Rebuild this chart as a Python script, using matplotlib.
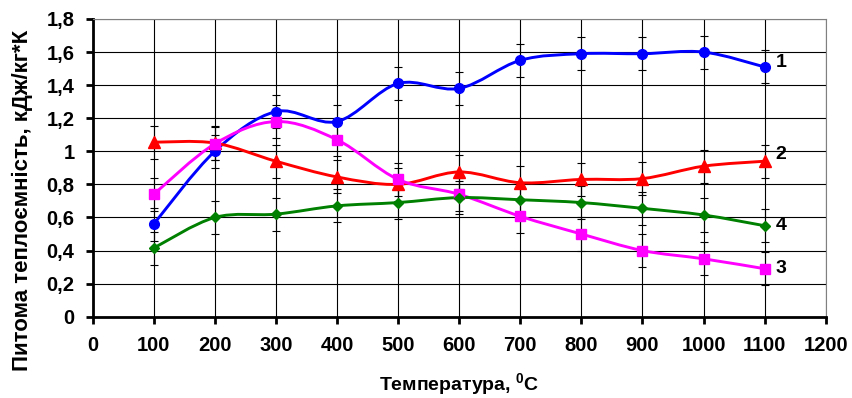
import matplotlib.pyplot as plt
from matplotlib.path import Path
from matplotlib.patches import PathPatch

plt.rcParams['font.family'] = ['Liberation Sans', 'DejaVu Sans']
plt.rcParams['font.weight'] = 'bold'
plt.rcParams['mathtext.fontset'] = 'custom'
plt.rcParams['mathtext.rm'] = 'Liberation Sans:bold'
plt.rcParams['mathtext.bf'] = 'Liberation Sans:bold'

temps = [100, 200, 300, 400, 500, 600, 700, 800, 900, 1000, 1100]
s1 = [0.56, 1.00, 1.24, 1.18, 1.41, 1.38, 1.55, 1.59, 1.59, 1.60, 1.51]
s2 = [1.055, 1.05, 0.94, 0.845, 0.80, 0.875, 0.81, 0.83, 0.835, 0.91, 0.94]
s3 = [0.74, 1.045, 1.18, 1.07, 0.83, 0.74, 0.607, 0.50, 0.40, 0.35, 0.29]
s4 = [0.415, 0.60, 0.62, 0.67, 0.69, 0.72, 0.707, 0.69, 0.655, 0.615, 0.55]
err = 0.1

# values, colour, marker, marker size, label, label offset (pt)
series = [
    (s1, '#0000FF', 'o', 7, '1', 3),
    (s2, '#FF0000', '^', 8, '2', 5),
    (s3, '#FF00FF', 's', 7, '3', 0),
    (s4, '#008000', 'D', 5.5, '4', 0),
]

x_ticks = list(range(0, 1201, 100))
y_ticks = [0, 0.2, 0.4, 0.6, 0.8, 1.0, 1.2, 1.4, 1.6, 1.8]
y_labels = ['0', '0,2', '0,4', '0,6', '0,8', '1', '1,2', '1,4', '1,6', '1,8']


def smooth_path(x, y):
    # Excel-style smoothed line: cubic Bezier through the points
    n = len(x)
    verts = [(x[0], y[0])]
    codes = [Path.MOVETO]
    for i in range(n - 1):
        x0, y0 = (x[i - 1], y[i - 1]) if i > 0 else (x[i], y[i])
        x3, y3 = (x[i + 2], y[i + 2]) if i + 2 < n else (x[i + 1], y[i + 1])
        c1 = (x[i] + (x[i + 1] - x0) / 6, y[i] + (y[i + 1] - y0) / 6)
        c2 = (x[i + 1] - (x3 - x[i]) / 6, y[i + 1] - (y3 - y[i]) / 6)
        verts += [c1, c2, (x[i + 1], y[i + 1])]
        codes += [Path.CURVE4] * 3
    return Path(verts, codes)


fig = plt.figure(figsize=(8.53, 3.98), dpi=100)
ax = fig.add_axes([0.1086, 0.2043, 0.8594, 0.748])

ax.set_xlim(0, 1200)
ax.set_ylim(0, 1.8)
ax.set_xticks(x_ticks)
ax.set_yticks(y_ticks)
ax.set_yticklabels(y_labels)
ax.grid(True, color='black', linewidth=0.8)
ax.set_axisbelow(True)

for vals, color, marker, ms, name, dy in series:
    ax.errorbar(temps, vals, yerr=err, fmt='none', ecolor='black',
                elinewidth=0.8, capsize=3, capthick=0.8, zorder=3)
for vals, color, marker, ms, name, dy in series:
    ax.add_patch(PathPatch(smooth_path(temps, vals), facecolor='none',
                           edgecolor=color, linewidth=2.1, zorder=4))
    ax.plot(temps, vals, linestyle='none', marker=marker, markersize=ms,
            color=color, zorder=5)
    ax.annotate(name, (temps[-1], vals[-1]), xytext=(8, dy),
                textcoords='offset points', va='center', ha='left',
                fontsize=14, fontweight='bold')

for side in ['left', 'bottom']:
    ax.spines[side].set_linewidth(2)
for side in ['top', 'right']:
    ax.spines[side].set_color('#808080')
    ax.spines[side].set_linewidth(0.8)

ax.tick_params(axis='both', direction='out', length=5, width=2,
               labelsize=14.5)
ax.tick_params(axis='y', pad=8)
ax.tick_params(axis='x', pad=9)

ax.set_xlabel(r'Температура, $^{0}$C', fontsize=14, fontweight='bold')
ax.xaxis.label.set_va('baseline')
ax.set_ylabel('Питома теплоємність, кДж/кг*К', fontsize=16,
              fontweight='bold')
ax.xaxis.set_label_coords(0.5, -0.25)
ax.yaxis.set_label_coords(-0.082, 0.39)

fig.savefig('out.png', dpi=100)
